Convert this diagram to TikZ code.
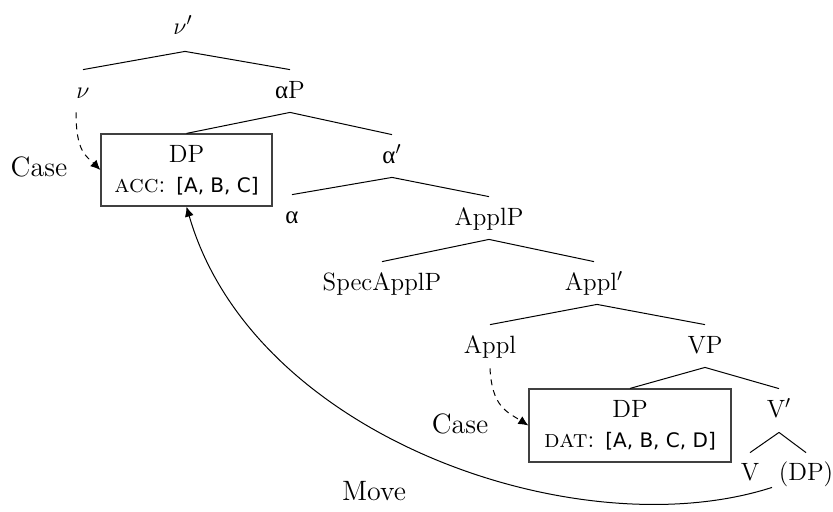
\documentclass[tikz,border=0pt]{standalone}
\usepackage{fontspec}
\newfontfamily\featfont{DejaVu Sans}
\newfontfamily\grkfont{Liberation Serif}
\usetikzlibrary{arrows.meta}
\newcommand{\ualpha}{{\grkfont α}}
\newcommand{\featlist}[1]{{\featfont\fontsize{10}{12}\selectfont #1}}
\begin{document}
\begin{tikzpicture}[x=0.5pt,y=-0.5pt, font=\fontsize{12.5}{15}\selectfont,
  lbl/.style={inner sep=0pt, text height=8.5pt, text depth=2.5pt, anchor=base},
  arclbl/.style={lbl, font=\fontsize{14}{16}\selectfont},
  branch/.style={line width=0.5pt},
  featbox/.style={draw=black!75, line width=0.6pt, inner sep=0pt, align=center},
  caselink/.style={dash pattern=on 3pt off 2.5pt, line width=0.5pt, -{Latex[length=5pt,width=4.5pt]}},
  movelink/.style={line width=0.5pt, -{Latex[length=5pt,width=4.5pt]}}]

\useasboundingbox (0,0) rectangle (833,511);

% labels
\node[lbl] (vbar)  at (183,34)  {$\nu'$};
\node[lbl] (nu)    at (83,98)   {$\nu$};
\node[lbl] (aP)    at (290,98)  {\ualpha P};
\node[featbox, minimum width=85.5pt, minimum height=36pt] (dpa) at (186.5,170)
  {DP\\\textsc{acc}: \featlist{[A, B, C]}};
\node[lbl] (abar)  at (392,163) {\ualpha$'$};
\node[lbl] (alpha) at (292,223) {\ualpha};
\node[lbl] (applP) at (489,225) {ApplP};
\node[lbl] (spec)  at (382,290) {SpecApplP};
\node[lbl] (applbar) at (594,290) {Appl$'$};
\node[lbl] (appl)  at (490,353) {Appl};
\node[lbl] (VP)    at (705,353) {VP};
\node[featbox, minimum width=101pt, minimum height=36.5pt] (dpb) at (630,425.5)
  {DP\\\textsc{dat}: \featlist{[A, B, C, D]}};
\node[lbl] (vbarV) at (779,417) {V$'$};
\node[lbl] (V)     at (750,480) {V};
\node[lbl] (dpt)   at (806,480) {(DP)};

\node[arclbl] (casea) at (39,176)  {Case};
\node[arclbl] (caseb) at (460,433) {Case};
\node[arclbl] (move)  at (374,500) {Move};

% branches
\draw[branch] ([xshift=1pt,yshift=-6pt]vbar.south) -- ([yshift=5.5pt]nu.north);
\draw[branch] ([xshift=1pt,yshift=-6pt]vbar.south) -- ([yshift=5.5pt]aP.north);
\draw[branch] ([yshift=-4.5pt]aP.south) -- (dpa.north);
\draw[branch] ([yshift=-4.5pt]aP.south) -- ([yshift=5.5pt]abar.north);
\draw[branch] ([yshift=-4.5pt]abar.south) -- ([yshift=5.5pt]alpha.north);
\draw[branch] ([yshift=-4.5pt]abar.south) -- ([yshift=5.5pt]applP.north);
\draw[branch] ([yshift=-4.5pt]applP.south) -- ([yshift=5.5pt]spec.north);
\draw[branch] ([yshift=-4.5pt]applP.south) -- ([yshift=5.5pt]applbar.north);
\draw[branch] ([xshift=1.5pt,yshift=-4.5pt]applbar.south) -- ([yshift=5.5pt]appl.north);
\draw[branch] ([xshift=1.5pt,yshift=-4.5pt]applbar.south) -- ([yshift=5.5pt]VP.north);
\draw[branch] ([yshift=-4.5pt]VP.south) -- (dpb.north);
\draw[branch] ([yshift=-4.5pt]VP.south) -- ([yshift=5.5pt]vbarV.north);
\draw[branch] ([yshift=-5pt]vbarV.south) -- ([yshift=5pt]V.north);
\draw[branch] ([yshift=-5pt]vbarV.south) -- ([yshift=5pt]dpt.north);

% case assignment
\draw[caselink] ([xshift=-3.5pt,yshift=-4.5pt]nu.south) .. controls +(0,40) and +(-14,-14) .. (dpa.west);
\draw[caselink] ([yshift=-5pt]appl.south) .. controls +(2,38) and +(-22,-14) .. (dpb.west);

% movement
\draw[movelink] ([xshift=-17pt,yshift=-1pt]dpt.south) .. controls +(-192,62) and +(67,232) .. (dpa.south);
\end{tikzpicture}
\end{document}
